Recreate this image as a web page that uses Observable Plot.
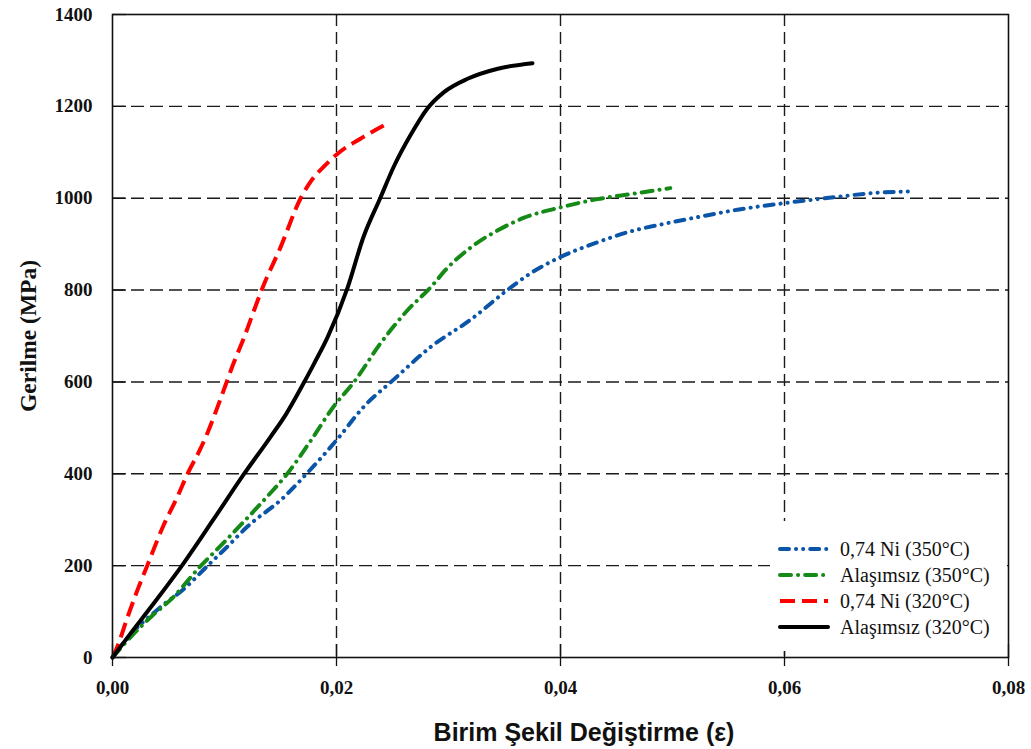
<!DOCTYPE html>
<html>
<head>
<meta charset="utf-8">
<script src="https://cdn.jsdelivr.net/npm/d3@7"></script>
<script src="https://cdn.jsdelivr.net/npm/@observablehq/plot@0.6"></script>
<style>
  body { margin: 0; background: #fff; }
  #wrap { position: relative; width: 1031px; height: 749px; }
  #ylab { position: absolute; left: 28px; top: 336px; transform: translate(-50%, -50%) rotate(-90deg);
          font: bold 23.5px "Liberation Serif", "Times New Roman", serif; white-space: nowrap; color: #111; }
  #xlab { position: absolute; left: 584px; top: 732px; transform: translate(-50%, -50%);
          font: bold 25px "Liberation Sans", Arial, sans-serif; white-space: nowrap; color: #111; }
  #legend { position: absolute; left: 770px; top: 521px; width: 237px; height: 130px; background: #fff; }
  .row { position: absolute; left: 8px; height: 26px; display: flex; align-items: center;
         font: 20px "Liberation Serif", "Times New Roman", serif; color: #111; white-space: nowrap; }
  .row svg { margin-right: 10px; }
</style>
</head>
<body>
<div id="wrap">
  <div id="chart"></div>
  <div id="ylab">Gerilme (MPa)</div>
  <div id="xlab">Birim Şekil Değiştirme (ε)</div>
  <div id="legend"></div>
</div>
<script>
// ---- Data (strain, stress MPa) ----
const blueNi350 = [[0,0],[0.001,33],[0.0043,110],[0.0065,152],[0.0085,200],[0.0102,240],[0.012,284],[0.0153,349],[0.0174,402],[0.0201,476],[0.0224,545],[0.0251,605],[0.0284,676],[0.032,736],[0.0352,799],[0.0373,836],[0.04,872],[0.0433,904],[0.0463,928],[0.0492,944],[0.0525,960],[0.0558,975],[0.0599,989],[0.0644,1002],[0.0683,1012],[0.0716,1015]];
const greenAl350 = [[0,0],[0.0016,44],[0.0035,90],[0.0052,126],[0.0079,200],[0.0096,242],[0.0117,295],[0.0138,350],[0.0156,400],[0.0177,472],[0.0197,545],[0.0216,601],[0.0239,683],[0.0263,755],[0.0284,806],[0.0299,848],[0.032,893],[0.0344,930],[0.0367,957],[0.04,980],[0.0433,998],[0.0463,1009],[0.0498,1022]];
const redNi320 = [[0,0],[0.0005,28],[0.0013,85],[0.0022,145],[0.0031,200],[0.0046,290],[0.0058,350],[0.0067,400],[0.0078,452],[0.0085,490],[0.0096,560],[0.0108,640],[0.0118,700],[0.0127,760],[0.0134,805],[0.015,893],[0.0168,1000],[0.0178,1040],[0.019,1072],[0.0201,1097],[0.0221,1129],[0.0245,1162]];
const blackAl320 = [[0,0],[0.0016,52],[0.0035,112],[0.0062,200],[0.009,300],[0.0117,398],[0.0141,480],[0.0155,530],[0.0169,590],[0.018,640],[0.0192,697],[0.021,806],[0.0224,915],[0.0239,1000],[0.0251,1068],[0.0266,1137],[0.0281,1195],[0.0296,1231],[0.0317,1260],[0.0344,1282],[0.0375,1294]];

const seriesNames = ["0,74 Ni (350°C)", "Alaşımsız (350°C)", "0,74 Ni (320°C)", "Alaşımsız (320°C)"];
const seriesColors = ["#0b55a8", "#168a16", "#ff0000", "#000000"];
const seriesDash = ["9,7,0.1,7,0.1,7", "11,7,0.1,7", "15,7", null];
const seriesCap = ["round", "round", "butt", "round"];
const seriesData = [blueNi350, greenAl350, redNi320, blackAl320];

const xTicks = [0, 0.02, 0.04, 0.06, 0.08];
const xTickLabels = ["0,00", "0,02", "0,04", "0,06", "0,08"];
const yTicks = [0, 200, 400, 600, 800, 1000, 1200, 1400];
const xGrid = [0.02, 0.04, 0.06];
const yGrid = [200, 400, 600, 800, 1000, 1200];

const tickFont = {fontFamily: '"Liberation Serif", "Times New Roman", serif', fontSize: 19, fontWeight: "bold"};

const lineMarks = seriesData.map((d, i) => Plot.line(d, {
  x: p => p[0], y: p => p[1],
  stroke: seriesColors[i], strokeWidth: 4,
  strokeDasharray: seriesDash[i] || undefined,
  strokeLinecap: seriesCap[i], strokeLinejoin: "round", curve: "monotone-x"
}));

const chart = Plot.plot({
  width: 1031, height: 749,
  marginLeft: 112, marginRight: 23, marginTop: 14, marginBottom: 92,
  x: {domain: [0, 0.08]},
  y: {domain: [0, 1400]},
  style: {background: "#fff", color: "#111"},
  marks: [
    Plot.ruleX(xGrid, {stroke: "#1a1a1a", strokeWidth: 1.4, strokeDasharray: "12,6"}),
    Plot.ruleY(yGrid, {stroke: "#1a1a1a", strokeWidth: 1.4, strokeDasharray: "13,6"}),
    ...lineMarks,
    Plot.axisX({ticks: xTicks, tickSize: 9, tickPadding: 14, label: null,
      tickFormat: v => xTickLabels[xTicks.indexOf(v)], ...tickFont, strokeWidth: 1.3}),
    Plot.axisX({ticks: xTicks, tickSize: -13, tickPadding: 0, label: null, tickFormat: () => "", strokeWidth: 1.3}),
    Plot.axisY({ticks: yTicks, tickSize: 0, tickPadding: 20, label: null, tickFormat: d => String(d), ...tickFont}),
    Plot.axisY({ticks: yTicks, tickSize: -14, tickPadding: 0, label: null, tickFormat: () => "", strokeWidth: 1.3}),
    Plot.frame({stroke: "#111", strokeWidth: 1.6})
  ]
});
document.getElementById("chart").appendChild(chart);

// ---- Legend (HTML overlay) ----
const legend = document.getElementById("legend");
const rowTops = [15, 41, 67, 93];
seriesNames.forEach((name, i) => {
  const row = document.createElement("div");
  row.className = "row";
  row.style.top = rowTops[i] + "px";
  const dash = seriesDash[i] ? `stroke-dasharray="${seriesDash[i]}"` : "";
  row.innerHTML = `<svg width="52" height="10"><line x1="2" y1="5" x2="50" y2="5" stroke="${seriesColors[i]}" stroke-width="4" stroke-linecap="${seriesCap[i]}" ${dash}/></svg><span>${name}</span>`;
  legend.appendChild(row);
});
</script>
</body>
</html>
